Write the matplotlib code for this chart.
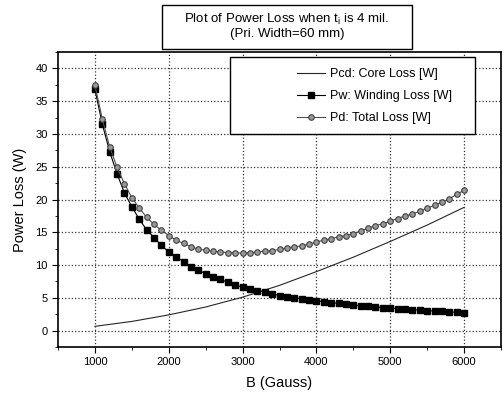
import numpy as np
import matplotlib
matplotlib.use("Agg")
import matplotlib.pyplot as plt
from matplotlib.patches import Rectangle

plt.rcParams['font.family'] = ['Liberation Sans', 'DejaVu Sans']

# B in Gauss, one point every 100 G
b = list(range(1000, 6001, 100))

winding = [36.8, 31.5, 27.3, 23.9, 21.0, 18.9, 17.0, 15.4, 14.2, 13.0,
           12.0, 11.3, 10.5, 9.7, 9.2, 8.7, 8.2, 7.8, 7.4, 7.0,
           6.6, 6.3, 6.1, 5.9, 5.6, 5.35, 5.2, 5.0, 4.85, 4.7,
           4.55, 4.4, 4.27, 4.15, 4.03, 3.92, 3.82, 3.72, 3.62, 3.52,
           3.43, 3.35, 3.27, 3.2, 3.12, 3.05, 2.98, 2.92, 2.86, 2.8,
           2.74]

total = [37.4, 32.3, 28.0, 24.9, 22.4, 20.3, 18.7, 17.3, 16.2, 15.3,
         14.5, 13.8, 13.3, 12.8, 12.4, 12.3, 12.1, 12.0, 11.9, 11.9,
         11.8, 11.9, 12.0, 12.1, 12.2, 12.4, 12.6, 12.8, 12.9, 13.2,
         13.5, 13.8, 14.0, 14.3, 14.5, 14.8, 15.2, 15.6, 16.0, 16.3,
         16.7, 17.1, 17.5, 17.8, 18.2, 18.7, 19.1, 19.6, 20.1, 20.8,
         21.4]

# core loss read every 500 G
b_core = list(range(1000, 6001, 500))
core = [0.65, 1.4, 2.4, 3.6, 5.1, 6.9, 9.0, 11.2, 13.6, 16.1, 18.8]

W, H = 503, 394
fig = plt.figure(figsize=(W/100, H/100), dpi=100)
ax = fig.add_axes([58/W, 1-347/H, 443/W, 295/H])

ax.plot(b_core, core, color='0.15', lw=0.8, label='Pcd: Core Loss [W]')
ax.plot(b, winding, color='black', lw=0.8, marker='s', ms=5,
        label='Pw: Winding Loss [W]')
ax.plot(b, total, color='0.3', lw=0.8, marker='o', ms=4, mfc='0.6',
        mec='0.25', mew=0.8, label='Pd: Total Loss [W]')

ax.set_xlim(500, 6500)
ax.set_ylim(-2.5, 42.5)
ax.set_xticks(range(1000, 6001, 1000))
ax.set_xticks(range(500, 6501, 500), minor=True)
ax.set_yticks(range(0, 41, 5))
ax.set_yticks(np.arange(-2.5, 42.6, 2.5), minor=True)
ax.grid(True, which='major', ls=':', color='0.2', lw=0.9)
ax.tick_params(which='major', direction='out', length=4, labelsize=8)
ax.tick_params(which='minor', direction='out', length=2)
for s in ax.spines.values():
    s.set_linewidth(1.2)

ax.set_xlabel('B (Gauss)', fontsize=10.5, labelpad=6)
ax.set_ylabel('Power Loss (W)', fontsize=10.5, labelpad=6)

# legend box
ax.add_patch(Rectangle((0.388, 0.722), 0.553, 0.261, transform=ax.transAxes,
                       facecolor='white', edgecolor='black', lw=1.0, zorder=5))
leg = ax.legend(loc='upper left', bbox_to_anchor=(0.53, 0.958), frameon=False,
                fontsize=9, handlelength=2.3, handletextpad=0.4,
                labelspacing=0.8, borderpad=0.3, borderaxespad=0)
leg.set_zorder(6)

# title box
fig.text(287/W, 1-26/H, 'Plot of Power Loss when t$_\\mathregular{i}$ is 4 mil.\n(Pri. Width=60 mm)',
         ha='center', va='center', fontsize=9.5, linespacing=1.15)
fig.patches.append(Rectangle((162/W, 1-49/H), 250/W, 44/H, transform=fig.transFigure,
                             facecolor='white', edgecolor='black', lw=1.0, zorder=-1))

fig.savefig('out.png', dpi=100)
